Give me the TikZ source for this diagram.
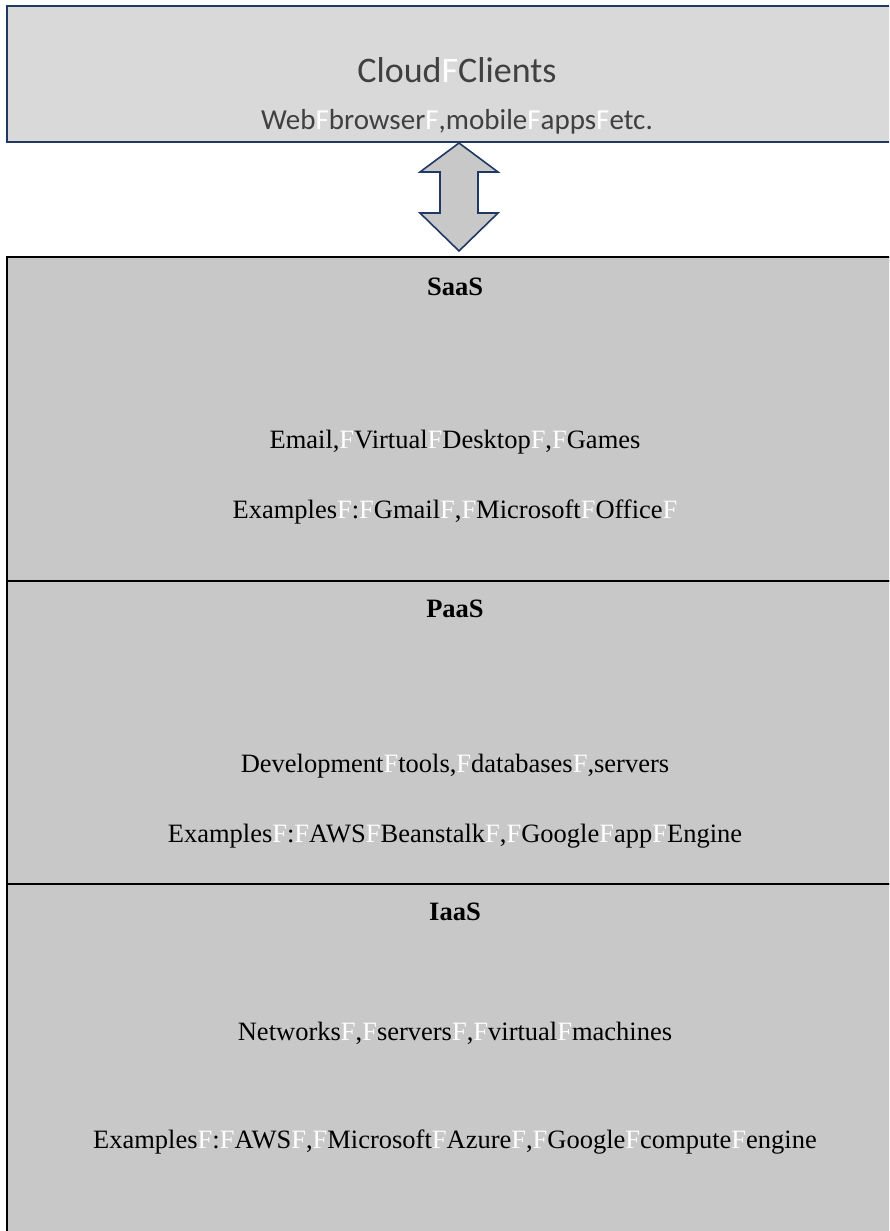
\documentclass[tikz,border=0pt]{standalone}
\usepackage{fontspec}
\setmainfont{Liberation Serif}
\newfontfamily\calib{Carlito}
\definecolor{navy}{HTML}{203864}
\definecolor{topfill}{HTML}{D9D9D9}
\definecolor{panelfill}{HTML}{C8C8C8}
\definecolor{cloudtext}{HTML}{404040}
\newcommand{\wf}{\textcolor{white}{F}}
\tikzset{
  panel/.style={draw=black, line width=2.2pt, fill=panelfill},
  body/.style={font=\fontsize{26.5}{30}\selectfont, text=black, inner sep=0pt},
  title/.style={font=\fontsize{26.5}{30}\selectfont\bfseries, text=black, inner sep=0pt},
}
\begin{document}
\begin{tikzpicture}[x=1pt,y=-1pt]
\useasboundingbox (0,0) rectangle (889,1231);
\clip (0,0) rectangle (889,1231);
% top box
\draw[navy, line width=2.5pt, fill=topfill] (7,6) rectangle (905,142);
\node[font=\calib\fontsize{36}{40}\selectfont, text=cloudtext, inner sep=0pt] (clients) at (457,70) {Cloud\wf Clients};
\node[font=\calib\fontsize{29}{32}\selectfont, text=cloudtext, inner sep=0pt] (clientsub) at (457,122) {Web\wf browser\wf ,mobile\wf apps\wf etc.};
% panels
\draw[panel] (7,257) rectangle (905,581);
\draw[panel] (7,581) rectangle (905,884);
\draw[panel] (7,884) rectangle (905,1245);
% double arrow
\draw[navy, line width=1.6pt, fill=panelfill, line join=miter]
  (459,143) -- (498,172) -- (478,172) -- (478,213) -- (498,213) -- (459,251)
  -- (420,213) -- (440,213) -- (440,172) -- (420,172) -- cycle;
% SaaS
\node[title] (saas) at (455,287) {SaaS};
\node[body] (saas1) at (455,442) {Email,\wf Virtual\wf Desktop\wf ,\wf Games};
\node[body] (saas2) at (455,512) {Examples\wf :\wf Gmail\wf ,\wf Microsoft\wf Office\wf};
% PaaS
\node[title] (paas) at (455,609) {PaaS};
\node[body] (paas1) at (455,766) {Development\wf tools,\wf databases\wf ,servers};
\node[body] (paas2) at (455,836) {Examples\wf :\wf AWS\wf Beanstalk\wf ,\wf Google\wf app\wf Engine};
% IaaS
\node[title] (iaas) at (455,912) {IaaS};
\node[body] (iaas1) at (455,1033) {Networks\wf ,\wf servers\wf ,\wf virtual\wf machines};
\node[body] (iaas2) at (455,1142) {Examples\wf :\wf AWS\wf ,\wf Microsoft\wf Azure\wf ,\wf Google\wf compute\wf engine};
\end{tikzpicture}
\end{document}
